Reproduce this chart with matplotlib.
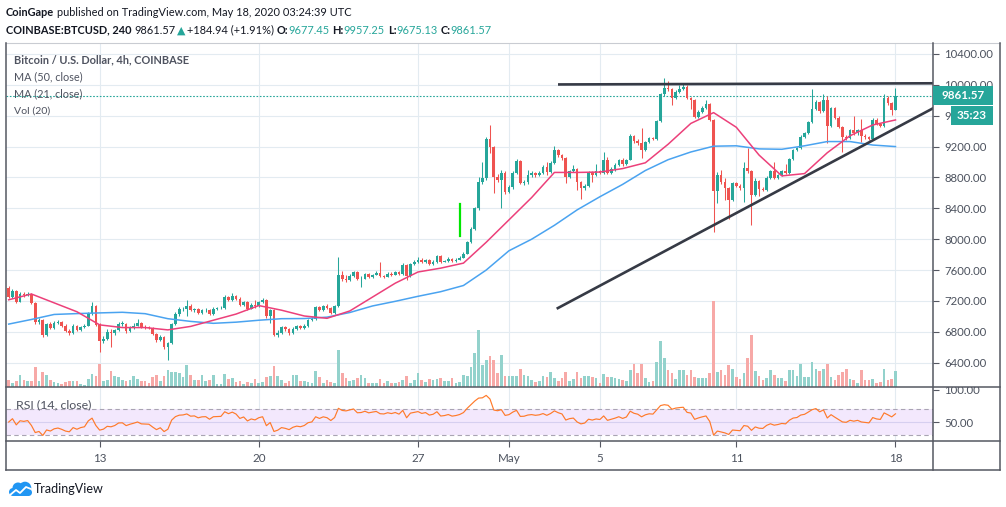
import numpy as np
import matplotlib
matplotlib.use("Agg")
import matplotlib.pyplot as plt
from matplotlib.patches import Rectangle, Circle
from matplotlib.lines import Line2D

plt.rcParams['font.family'] = ['Lato', 'DejaVu Sans']
NARROW = ['Liberation Sans Narrow', 'Lato', 'DejaVu Sans']

W, H = 1006, 507

# BTCUSD 4h candles, 9 Apr 00:00 -> 18 May 00:00 (index = candle number)
first_open = 7370.0
closes = [
    7255, 7330, 7190, 7290, 7275, 7295, 7175, 6925, 6950, 6760,
    6900, 6850, 6910, 6930, 6880, 6810, 6780, 6880, 6820, 6860,
    6880, 7040, 7130, 6890, 6680, 6710, 6800, 6780, 6820, 6900,
    6905, 6810, 6850, 6880, 6915, 6860, 6855, 6850, 6770, 6690,
    6730, 6600, 6650, 6900, 7030, 7090, 7100, 7140, 7085, 7095,
    7050, 7080, 7085, 7030, 7100, 7105, 7110, 7250, 7215, 7265,
    7230, 7145, 7185, 7100, 7150, 7130, 7185, 7210, 7000, 7080,
    6755, 6790, 6860, 6830, 6780, 6840, 6870, 6850, 6880, 6950,
    6970, 7120, 7080, 7130, 7110, 7045, 7130, 7535, 7480, 7468,
    7520, 7570, 7480, 7490, 7545, 7510, 7540, 7565, 7520, 7515,
    7555, 7540, 7572, 7545, 7663, 7520, 7676, 7706, 7736, 7700,
    7728, 7680, 7706, 7788, 7705, 7719, 7749, 7720, 7735, 7762,
    7814, 7961, 8138, 8398, 8744, 8787, 9293, 9189, 8800, 8770,
    8861, 8614, 8670, 8861, 9016, 8731, 8745, 8830, 8860, 8830,
    8860, 8938, 8873, 8981, 9154, 9090, 9046, 8808, 8880, 8908,
    8744, 8657, 8692, 8865, 8830, 8880, 8860, 9025, 8860, 8910,
    8960, 9025, 8968, 9030, 9340, 9271, 9241, 9154, 9254, 9306,
    9297, 9531, 9876, 9963, 9946, 9825, 9911, 9950, 9976, 9825,
    9803, 9587, 9652, 9704, 9747, 9544, 8623, 8830, 8744, 8657,
    8506, 8722, 8692, 8666, 8925, 8882, 8571, 8752, 8655, 8640,
    8796, 8882, 8796, 8830, 8882, 8860, 9038, 9154, 9185, 9327,
    9371, 9513, 9686, 9773, 9660, 9803, 9470, 9695, 9574, 9457,
    9327, 9306, 9414, 9371, 9414, 9340, 9320, 9300, 9544, 9490,
    9470, 9833, 9760, 9677.45, 9861.57,
]
highs = [
    7390, 7350, 7345, 7310, 7320, 7310, 7305, 7190, 6975, 6965,
    6920, 6930, 6935, 6950, 6945, 6895, 6830, 6895, 6890, 6875,
    6905, 7060, 7187, 7150, 6910, 6740, 6830, 6830, 6840, 6925,
    6935, 6920, 6870, 6910, 6960, 6930, 6885, 6880, 6865, 6785,
    6760, 6745, 6670, 6920, 7060, 7120, 7125, 7209, 7155, 7115,
    7110, 7100, 7105, 7100, 7120, 7125, 7130, 7275, 7265, 7300,
    7280, 7245, 7200, 7195, 7170, 7215, 7200, 7235, 7220, 7095,
    7090, 6820, 6880, 6880, 6850, 6860, 6890, 6885, 6900, 6970,
    6990, 7140, 7135, 7150, 7160, 7125, 7150, 7771, 7590, 7540,
    7545, 7590, 7585, 7520, 7560, 7560, 7555, 7590, 7706, 7540,
    7575, 7570, 7590, 7585, 7690, 7675, 7695, 7725, 7770, 7750,
    7745, 7740, 7725, 7800, 7800, 7735, 7770, 7760, 7750, 7780,
    7830, 7980, 8160, 8420, 8810, 9000, 9320, 9479, 9210, 8850,
    8900, 8880, 8700, 8880, 9035, 9030, 8770, 8900, 8880, 8875,
    8880, 8960, 9000, 9010, 9206, 9170, 9110, 9060, 8900, 8960,
    8920, 8760, 8710, 8885, 8880, 8968, 8895, 9124, 9060, 8935,
    8985, 9045, 9050, 9045, 9360, 9355, 9300, 9435, 9270, 9330,
    9325, 9550, 9900, 10084, 10050, 9960, 9935, 10000, 10010, 9995,
    9840, 9815, 9670, 9720, 9803, 9760, 9560, 8870, 8900, 8796,
    8680, 8745, 8740, 8710, 8994, 9176, 8895, 8787, 8765, 8680,
    8815, 8900, 8994, 8850, 8900, 8968, 9055, 9170, 9200, 9345,
    9390, 9530, 9946, 9800, 9785, 9876, 9859, 9715, 9717, 9590,
    9470, 9345, 9430, 9600, 9430, 9557, 9360, 9340, 9570, 9565,
    9510, 9876, 9850, 9775, 9957.25,
]
lows = [
    7240, 7240, 7170, 7180, 7255, 7260, 7160, 6900, 6905, 6735,
    6745, 6835, 6840, 6895, 6865, 6795, 6760, 6770, 6805, 6810,
    6850, 6870, 7020, 6870, 6539, 6650, 6690, 6603, 6760, 6805,
    6880, 6790, 6795, 6835, 6870, 6845, 6835, 6830, 6755, 6670,
    6675, 6580, 6440, 6640, 6885, 7010, 7070, 7000, 7065, 7060,
    7035, 7035, 7060, 7015, 7020, 7085, 7090, 7100, 7195, 7205,
    7215, 7130, 7130, 7085, 7090, 7115, 7120, 7170, 6980, 6920,
    6740, 6730, 6775, 6815, 6760, 6770, 6825, 6835, 6835, 6865,
    6935, 6955, 7065, 7070, 7095, 7030, 7035, 7120, 7460, 7450,
    7455, 7505, 7465, 7382, 7480, 7495, 7500, 7530, 7505, 7500,
    7505, 7525, 7530, 7530, 7535, 7477, 7510, 7660, 7695, 7690,
    7690, 7665, 7670, 7695, 7690, 7700, 7710, 7710, 7710, 7725,
    7750, 7805, 7950, 8120, 8380, 8720, 8770, 9120, 8600, 8740,
    8398, 8590, 8600, 8650, 8840, 8710, 8700, 8720, 8810, 8810,
    8815, 8840, 8830, 8860, 8970, 9070, 9020, 8722, 8790, 8870,
    8636, 8527, 8640, 8680, 8744, 8815, 8845, 8850, 8840, 8845,
    8890, 8950, 8950, 8955, 9020, 9250, 9220, 9046, 9140, 9240,
    9280, 9285, 9520, 9860, 9920, 9738, 9810, 9900, 9935, 9810,
    9686, 9570, 9575, 9640, 9690, 9530, 8095, 8463, 8720, 8506,
    8268, 8490, 8675, 8640, 8480, 8860, 8182, 8555, 8560, 8620,
    8625, 8780, 8780, 8780, 8815, 8845, 8850, 9025, 9140, 9170,
    9310, 9360, 9500, 9670, 9640, 9645, 9241, 9455, 9560, 9440,
    9124, 9290, 9295, 9355, 9355, 9254, 9300, 9280, 9290, 9475,
    9455, 9460, 9745, 9608, 9675.13,
]
volumes = [
    6.7, 4, 6, 11.7, 6.7, 5.7, 6, 19.7, 6, 14.7,
    11.7, 6.7, 4.7, 4.3, 2.7, 5, 5.7, 5.7, 5.7, 3.3,
    2.3, 8, 12.7, 10.7, 23.3, 6, 6.7, 16, 10.7, 10,
    6.7, 5.7, 6.7, 10.7, 8.3, 5.7, 6, 4, 10, 11.7,
    5.7, 10.7, 16.7, 14.7, 14.7, 14, 10, 22, 12, 7,
    7, 12, 6.3, 7, 12, 3, 3, 13, 7.7, 9,
    5.3, 5.7, 3, 5.3, 4.3, 8, 4.3, 5.3, 10.3, 11.3,
    21, 11.3, 7, 4.3, 6.3, 12, 12, 6.3, 6.3, 5.3,
    4.3, 16, 10.3, 4.3, 7, 5.3, 4.3, 37, 13.7, 8.7,
    6.3, 7, 9.3, 12, 9, 4, 4, 4, 8, 4,
    5.7, 4, 4, 4.7, 6.7, 11.3, 4, 6.7, 14, 6.7,
    4.7, 8, 7.3, 8, 9, 5.7, 5.7, 9, 4, 4.7,
    12.3, 10.7, 20, 34, 57, 22.3, 26.7, 31.3, 26.7, 14,
    32.3, 10.7, 10.7, 10.7, 11.3, 18, 12, 11.3, 6.7, 4.7,
    5.7, 10.7, 10.3, 14.7, 8.7, 6, 8.7, 14.7, 6, 8,
    14.7, 8.7, 11.3, 11.3, 10, 8.7, 3.7, 12.7, 10, 10,
    8.7, 8, 7, 6, 17, 22.7, 13.7, 22.7, 9.3, 5.3,
    6, 25.3, 46, 28.7, 17, 13.7, 8, 17, 17, 12,
    17, 10.3, 9.3, 9.3, 9.3, 13.7, 86, 14.7, 17, 12,
    22, 18, 10.3, 8, 13.7, 28.7, 52, 16, 11.3, 7,
    8.7, 17, 12, 8.7, 8.7, 6, 17, 17, 11.3, 23,
    10.3, 10.3, 24.7, 18, 16, 18, 22.7, 10.3, 7, 12,
    14.7, 18, 8, 7, 3.7, 17, 7, 7, 8, 3.7,
    4.7, 18, 7, 8, 16,
]

# moving averages (every 6th candle)
ma_days = list(range(0, 235, 6))
ma21 = [7215, 7290, 7175, 7060, 6890, 6855, 6855, 6825, 6870, 6950,
        7030, 7140, 7080, 7005, 6975, 7070, 7250, 7430, 7575, 7625,
        7690, 7960, 8250, 8540, 8865, 8865, 8870, 8915, 8990, 9230,
        9500, 9640, 9450, 9090, 8820, 8850, 9120, 9340, 9480, 9545]
ma50 = [6900, 6960, 7025, 7036, 7045, 7053, 7035, 6970, 6935, 6910,
        6925, 6950, 6970, 6972, 6990, 7050, 7135, 7195, 7260, 7320,
        7400, 7600, 7850, 8000, 8180, 8380, 8550, 8710, 8890, 9030,
        9130, 9205, 9210, 9170, 9165, 9210, 9265, 9265, 9220, 9200]

rsi_start = 60.0   # RSI level at the left edge of the panel
avg_move = 45.0

price_ticks = [6400, 6800, 7200, 7600, 8000, 8400, 8800, 9200, 9600, 10000, 10400]
date_pos = [24, 66, 108, 132, 156, 192, 234]
date_labels = ['13', '20', '27', 'May', '5', '11', '18']

last_price = 9861.57
resist_x, resist_y = [145.3, 243.9], [10005, 10020]
support_x, support_y = [144.9, 243.9], [7107, 9696]
mark_x, mark_y = [119, 119], [8040, 8450]

TEAL = '#26a69a'
RED = '#ef5350'
DARK = '#131722'
AXC = '#4c525e'
GRID = '#e3ebf1'
FRAME = '#555862'

o = np.r_[first_open, closes[:-1]]
c = np.array(closes, dtype=float)
x = np.arange(len(c))
up = c >= o
col = np.where(up, TEAL, RED)
vcol = np.where(up, '#93d2cc', '#f7a9a7')

# Wilder RSI(14)
ag = avg_move * rsi_start / 100
al = avg_move * (100 - rsi_start) / 100
rsi = []
prev = first_open
for v in closes:
    d = v - prev
    ag = (ag * 13 + max(d, 0)) / 14
    al = (al * 13 + max(-d, 0)) / 14
    rsi.append(100 - 100 / (1 + ag / al))
    prev = v

fig = plt.figure(figsize=(W / 100, H / 100), dpi=100)
fig.patch.set_facecolor('white')


def box(x0, y0, x1, y1):
    return [x0 / W, 1 - y1 / H, (x1 - x0) / W, (y1 - y0) / H]


ax = fig.add_axes(box(6, 43, 933, 387))
axv = fig.add_axes(box(6, 43, 933, 387), sharex=ax)
axr = fig.add_axes(box(6, 387, 933, 441), sharex=ax)
axv.patch.set_visible(False)

ax.set_xlim(-0.71, 243.9)
ax.set_ylim(6085, 10542)
for t in date_pos:
    ax.axvline(t, color=GRID, lw=0.8, zorder=0)
    axr.axvline(t, color=GRID, lw=0.8, zorder=0)
for p in price_ticks:
    ax.axhline(p, color=GRID, lw=0.8, zorder=0)

# candles
ax.vlines(x, lows, highs, colors=col, lw=0.75, zorder=3)
body_lo = np.minimum(o, c)
body_h = np.maximum(np.abs(c - o), 8)
ax.bar(x, body_h, bottom=body_lo, width=0.7, color=col, lw=0, zorder=4)

ax.plot(ma_days, ma50, color='#4aa3f0', lw=1.1, zorder=5)
ax.plot(ma_days, ma21, color='#ec407a', lw=1.1, zorder=5)
ax.axhline(last_price, color=TEAL, lw=0.8, ls=(0, (1.5, 1.5)), zorder=2)
ax.plot(resist_x, resist_y, color='#363a45', lw=1.9, zorder=6)
ax.plot(support_x, support_y, color='#363a45', lw=1.9, zorder=6)
ax.plot(mark_x, mark_y, color='#00e600', lw=1.6, zorder=6)

ax.yaxis.tick_right()
ax.set_yticks(price_ticks)
ax.set_yticklabels([f'{p:.2f}' for p in price_ticks])
ax.tick_params(axis='y', length=4, width=0.8, color=FRAME, pad=4, labelsize=8.2, labelcolor=AXC)
ax.tick_params(axis='x', bottom=False, labelbottom=False)
for s in ax.spines.values():
    s.set_visible(False)

# volume
axv.bar(x, volumes, width=0.7, color=vcol, lw=0, zorder=1)
axv.set_ylim(0, 344)
axv.set_axis_off()

# RSI
axr.set_ylim(21, 104)
axr.axhspan(30, 70, color='#f3e8fd', lw=0, zorder=0)
axr.axhline(70, color='#a9a4b3', lw=0.8, ls=(0, (4, 3)), zorder=1)
axr.axhline(30, color='#a9a4b3', lw=0.8, ls=(0, (4, 3)), zorder=1)
axr.axhline(50, color='#d6cff0', lw=0.8, zorder=1)
axr.plot(x, rsi, color='#ff7a2a', lw=0.85, zorder=3)
axr.yaxis.tick_right()
axr.set_yticks([50, 100])
axr.set_yticklabels(['50.00', '100.00'])
axr.set_xticks(date_pos)
axr.set_xticklabels(date_labels)
axr.tick_params(axis='y', length=4, width=0.8, color=FRAME, pad=4, labelsize=8.2, labelcolor=AXC)
axr.tick_params(axis='x', length=4, width=0.8, color=FRAME, pad=5, labelsize=8.4, labelcolor=AXC)
for s in axr.spines.values():
    s.set_visible(False)

# hide the top of the RSI "100.00" label like the pane border does
fig.add_artist(Rectangle((934 / W, 1 - 387 / H), 66 / W, 10 / H, transform=fig.transFigure,
                         color='white', lw=0, zorder=5))


def fline(x0, y0, x1, y1, color=FRAME, lw=1.1):
    fig.add_artist(Line2D([x0 / W, x1 / W], [1 - y0 / H, 1 - y1 / H], color=color, lw=lw,
                          transform=fig.transFigure, zorder=6))


fline(6, 43, 1000, 43, color='#c9ccd2', lw=0.8)
fline(6, 43, 6, 470)
fline(933, 43, 933, 470)
fline(1000, 43, 1000, 470)
fline(6, 387, 1000, 387)
fline(6, 441, 1000, 441)
fline(6, 470, 1000, 470)

# last price labels
fig.add_artist(Rectangle((933 / W, 1 - 105 / H), 60 / W, 19 / H, transform=fig.transFigure,
                         color=TEAL, lw=0, zorder=7))
fig.text(963 / W, 1 - 95.5 / H, '9861.57', color='white', fontsize=8.4, fontweight='bold',
         ha='center', va='center', zorder=8)
fig.add_artist(Rectangle((951 / W, 1 - 125 / H), 42 / W, 19 / H, transform=fig.transFigure,
                         color=TEAL, lw=0, zorder=7))
fig.text(972 / W, 1 - 115.5 / H, '35:23', color='white', fontsize=8.4, fontweight='bold',
         ha='center', va='center', zorder=8)

r = fig.canvas.get_renderer()


def text_run(x0, y, pieces, x_end, size=9.0, family=NARROW):
    def place(sz):
        arts, cx = [], x0
        for s, colr, bold, gap in pieces:
            cx += gap * sz * 100 / 72
            t = fig.text(cx / W, 1 - y / H, s, color=colr, fontsize=sz, family=family,
                         fontweight='bold' if bold else 'normal', ha='left', va='center', zorder=9)
            cx += t.get_window_extent(r).width
            arts.append(t)
        return arts, cx
    arts, cx = place(size)
    for a in arts:
        a.remove()
    place(size * (x_end - x0) / (cx - x0))


text_run(6, 13, [('CoinGape', DARK, True, 0),
                 ('published on TradingView.com, May 18, 2020 03:24:39 UTC', DARK, False, 0.25)], 350)
text_run(6, 30, [('COINBASE:BTCUSD, 240', DARK, True, 0), ('9861.57', DARK, False, 0.3),
                 ('▲', TEAL, False, 0.1), ('+184.94 (+1.91%)', DARK, False, 0.15),
                 ('O:', DARK, True, 0.25), ('9677.45', TEAL, False, 0),
                 ('H:', DARK, True, 0.25), ('9957.25', TEAL, False, 0),
                 ('L:', DARK, True, 0.25), ('9675.13', TEAL, False, 0),
                 ('C:', DARK, True, 0.25), ('9861.57', TEAL, False, 0)], 490)

LEG = '#4f5360'
text_run(14, 60, [('Bitcoin / U.S. Dollar, 4h, COINBASE', LEG, True, 0)], 189)
text_run(14, 77, [('MA (50, close)', LEG, False, 0)], 82)
text_run(14, 94, [('MA (21, close)', LEG, False, 0)], 82)
text_run(14, 111, [('Vol (20)', LEG, False, 0)], 50)
text_run(16, 405, [('RSI (14, close)', LEG, False, 0)], 92)
text_run(34, 489, [('TradingView', DARK, False, 0)], 104)

# TradingView cloud logo
axl = fig.add_axes(box(7, 479, 33, 499))
axl.set_xlim(0, 26)
axl.set_ylim(20, 0)
axl.set_axis_off()
BLUE = '#2196f3'
for cx_, cy_, rr in [(6, 13, 4), (11, 9, 5.5), (18, 9, 6.3), (21.5, 13.5, 3.5)]:
    axl.add_patch(Circle((cx_, cy_), rr, color=BLUE, lw=0))
axl.add_patch(Rectangle((6, 11), 15.5, 6, color=BLUE, lw=0))
axl.plot([3, 9, 13, 19, 24], [16, 11, 14, 8, 10], color='white', lw=1.3, solid_capstyle='round')

fig.savefig('out.png', dpi=100, facecolor='white')
